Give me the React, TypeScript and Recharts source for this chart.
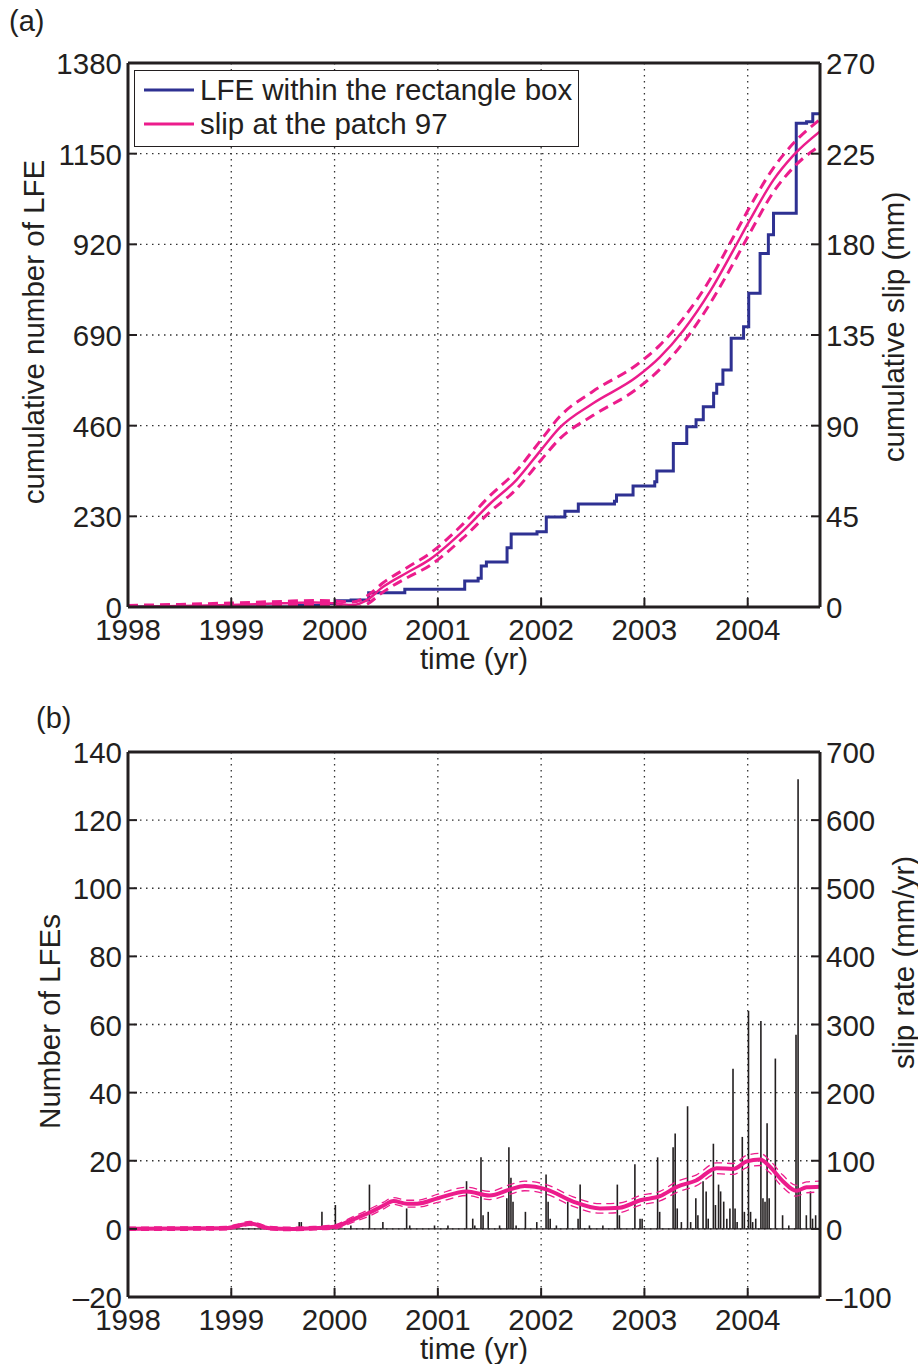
import React from "react";
import {
  ComposedChart,
  Line,
  Bar,
  XAxis,
  YAxis,
  CartesianGrid,
  ReferenceLine,
  Legend,
  Label,
} from "recharts";

const FONT = "'Liberation Sans', Arial, Helvetica, sans-serif";
const INK = "#231f20";
const BLUE = "#2e3192";
const PINK = "#ec1c8c";
const FS = 29.5;

const yearTicks = [1998, 1999, 2000, 2001, 2002, 2003, 2004];
const xDomain: [number, number] = [1998, 2004.7];

// ---- panel (a): cumulative LFE count and cumulative slip
const lfeLeftTicks = [0, 230, 460, 690, 920, 1150, 1380];
const slipRightTicks = [0, 45, 90, 135, 180, 225, 270];

const lfeTime = [
  1998, 1999.66, 1999.88, 2000.01, 2000.16, 2000.33, 2000.68, 2001.26, 2001.39, 2001.42,
  2001.47, 2001.67, 2001.71, 2001.96, 2002.05, 2002.23, 2002.36, 2002.71, 2002.73, 2002.89,
  2003.1, 2003.12, 2003.28, 2003.41, 2003.5, 2003.57, 2003.67, 2003.7, 2003.76, 2003.84,
  2003.96, 2004.01, 2004.12, 2004.2, 2004.25, 2004.47, 2004.57, 2004.63, 2004.7,
];
const lfeCum = [
  0, 4, 9, 16, 18, 36, 45, 66, 73, 104,
  114, 150, 185, 191, 228, 243, 261, 268, 284, 307,
  318, 345, 415, 457, 475, 508, 542, 565, 601, 682,
  711, 796, 897, 944, 999, 1227, 1231, 1251, 1255,
];

const slipTime = [
  1998, 1998.5, 1999, 1999.5, 1999.8, 2000.0, 2000.18, 2000.3, 2000.47, 2000.7,
  2000.92, 2001.25, 2001.5, 2001.76, 2002.0, 2002.18, 2002.5, 2002.92, 2003.15, 2003.38,
  2003.64, 2003.86, 2004.02, 2004.25, 2004.44, 2004.7,
];
const slipMid = [
  0, 0.5, 1, 1.8, 2.2, 1.8, 1.0, 3, 10, 17,
  23.5, 38, 51, 63, 78, 89, 101, 114, 124, 137.5,
  157, 177, 192, 212, 224, 236,
];
const slipUp = [
  0.8, 1.3, 2, 2.8, 3.2, 3, 2.5, 5, 12, 19.5,
  26.5, 41.5, 55, 67.5, 83, 94.5, 107, 120, 130, 143.5,
  163, 183.5, 198.5, 218, 230, 242,
];
const slipLo = [
  -0.5, 0, 0.3, 1, 1.3, 0.8, -0.5, 1, 7.5, 14.5,
  20.5, 34.5, 47, 58.5, 73, 83.5, 95, 108, 118, 131.5,
  151, 170.5, 185.5, 206, 218, 229,
];

// ---- panel (b): daily LFE counts and slip rate
const countLeftTicks = [-20, 0, 20, 40, 60, 80, 100, 120, 140];
const rateRightTicks = [-100, 0, 100, 200, 300, 400, 500, 600, 700];

const dayTime = [
  1999.66, 1999.68, 1999.88, 2000.01, 2000.16, 2000.34, 2000.47, 2000.7, 2000.73, 2000.97,
  2001.1, 2001.28, 2001.34, 2001.36, 2001.42, 2001.44, 2001.49, 2001.6, 2001.67, 2001.69,
  2001.71, 2001.73, 2001.76, 2001.85, 2001.96, 2002.05, 2002.07, 2002.09, 2002.15, 2002.26,
  2002.36, 2002.38, 2002.47, 2002.6, 2002.74, 2002.76, 2002.91, 2002.96, 2002.98, 2003.13,
  2003.15, 2003.28, 2003.3, 2003.32, 2003.36, 2003.42, 2003.45, 2003.5, 2003.52, 2003.57,
  2003.6, 2003.62, 2003.67, 2003.69, 2003.72, 2003.74, 2003.77, 2003.8, 2003.83, 2003.86,
  2003.88, 2003.9, 2003.95, 2003.97, 2004.01, 2004.03, 2004.05, 2004.08, 2004.13, 2004.15,
  2004.17, 2004.19, 2004.21, 2004.27, 2004.34, 2004.4, 2004.47, 2004.49, 2004.51, 2004.57,
  2004.61, 2004.63, 2004.66,
];
const dayCount = [
  2, 2, 5, 7, 1, 13, 2, 6, 1, 1,
  1, 14, 3, 1, 21, 4, 5, 1, 9, 24,
  15, 8, 1, 5, 2, 16, 8, 3, 1, 8,
  3, 13, 1, 1, 13, 4, 19, 3, 3, 21,
  5, 24, 28, 6, 2, 36, 2, 9, 4, 14,
  11, 3, 25, 7, 13, 11, 8, 3, 6, 47,
  6, 2, 27, 5, 64, 5, 2, 3, 61, 9,
  8, 31, 9, 50, 4, 1, 57, 132, 12, 4,
  11, 3, 4,
];

const rateTime = [
  1998, 1998.5, 1998.95, 1999.05, 1999.18, 1999.37, 1999.57, 1999.8, 2000.0, 2000.18,
  2000.34, 2000.47, 2000.57, 2000.7, 2000.8, 2001.0, 2001.28, 2001.5, 2001.7, 2001.84,
  2002.05, 2002.31, 2002.57, 2002.76, 2002.96, 2003.15, 2003.32, 2003.5, 2003.7, 2003.86,
  2003.99, 2004.12, 2004.21, 2004.34, 2004.47, 2004.57, 2004.7,
];
const rateMid = [
  0, 0.5, 1, 4, 8, 1, 0, 1, 3, 14,
  24, 34, 41, 37, 37, 45, 55, 49, 58, 63,
  58, 40, 30, 31, 42, 48, 62, 71, 89, 88,
  99, 102, 92, 70, 56, 61, 62,
];
const rateUp = [
  2.5, 3, 3.5, 6.5, 11, 3.5, 2.5, 3.5, 6, 18,
  29, 39, 46, 42, 42, 51, 61, 55, 65, 70,
  65, 47, 37, 38, 49, 55, 70, 79, 97, 96,
  108, 111, 101, 79, 64, 69, 70,
];
const rateLo = [
  -2, -2, -1.5, 1.5, 5, -1.5, -2.5, -1.5, 0, 10,
  19, 29, 36, 32, 32, 39, 49, 43, 51, 56,
  51, 33, 23, 24, 35, 41, 54, 63, 81, 80,
  90, 93, 83, 61, 48, 53, 54,
];

const zip = (ts: number[], vs: number[]) => ts.map((t, i) => ({ t, v: vs[i] }));
const dayData = dayTime.map((t, i) => ({ t, n: dayCount[i] }));

const fmt = (v: number) => (v < 0 ? "\u2013" + Math.abs(v) : String(v));

// MATLAB-like ticks: short marks pointing into the plot box
function BottomTick({ x, y, payload }: any) {
  return (
    <g>
      <line x1={x} x2={x} y1={y} y2={y - 9} stroke={INK} strokeWidth={2} />
      <text x={x} y={y + 33} textAnchor="middle" fontSize={FS} fontFamily={FONT} fill={INK}>
        {fmt(payload.value)}
      </text>
    </g>
  );
}
function TopTick({ x, y }: any) {
  return <line x1={x} x2={x} y1={y} y2={y + 9} stroke={INK} strokeWidth={2} />;
}
function LeftTick({ x, y, payload }: any) {
  return (
    <g>
      <line x1={x} x2={x + 9} y1={y} y2={y} stroke={INK} strokeWidth={2} />
      <text x={x - 6} y={y + 11} textAnchor="end" fontSize={FS} fontFamily={FONT} fill={INK}>
        {fmt(payload.value)}
      </text>
    </g>
  );
}
function RightTick({ x, y, payload }: any) {
  return (
    <g>
      <line x1={x} x2={x - 9} y1={y} y2={y} stroke={INK} strokeWidth={2} />
      <text x={x + 6} y={y + 11} textAnchor="start" fontSize={FS} fontFamily={FONT} fill={INK}>
        {fmt(payload.value)}
      </text>
    </g>
  );
}

function vLabel(text: string, dx: number, dy = 0) {
  return (props: any) => {
    const vb = props.viewBox;
    const cx = vb.x + dx;
    const cy = vb.y + vb.height / 2 + dy;
    return (
      <text
        x={cx}
        y={cy}
        transform={`rotate(-90 ${cx} ${cy})`}
        textAnchor="middle"
        dominantBaseline="central"
        fontSize={FS}
        fontFamily={FONT}
        fill={INK}
      >
        {text}
      </text>
    );
  };
}

function timeLabel(props: any) {
  const vb = props.viewBox;
  return (
    <text x={vb.x + vb.width / 2} y={vb.y + 62} textAnchor="middle" fontSize={FS} fontFamily={FONT} fill={INK}>
      time (yr)
    </text>
  );
}

function LegendBox() {
  const rows = [
    { c: BLUE, t: "LFE within the rectangle box" },
    { c: PINK, t: "slip at the patch 97" },
  ];
  return (
    <div
      style={{
        width: 445,
        height: 77,
        boxSizing: "border-box",
        border: `1.5px solid ${INK}`,
        background: "#fff",
        padding: "2px 0 0 9px",
      }}
    >
      {rows.map((r) => (
        <div
          key={r.t}
          style={{ display: "flex", alignItems: "center", height: 34, fontSize: FS, color: INK, fontFamily: FONT, whiteSpace: "nowrap" }}
        >
          <svg width={50} height={6} style={{ marginRight: 6, flexShrink: 0 }}>
            <line x1={0} x2={50} y1={3} y2={3} stroke={r.c} strokeWidth={3} />
          </svg>
          <span>{r.t}</span>
        </div>
      ))}
    </div>
  );
}

const axisLine = { stroke: INK, strokeWidth: 3 };
const grid = { stroke: "#333", strokeWidth: 1.3, strokeDasharray: "1.5 4.5" };

export default function App() {
  return (
    <div style={{ position: "relative", width: 918, height: 1364, background: "#fff", fontFamily: FONT, overflow: "hidden" }}>
      <style>{"body{margin:0;background:#fff}"}</style>

      <div style={{ position: "absolute", left: 0, top: 0 }}>
        <ComposedChart width={918} height={690} margin={{ top: 62, right: 0, bottom: 0, left: 0 }}>
          <CartesianGrid xAxisId="b" yAxisId="left" {...grid} />
          <XAxis
            xAxisId="b"
            type="number"
            dataKey="t"
            domain={xDomain}
            ticks={yearTicks}
            interval={0}
            allowDataOverflow
            height={83}
            axisLine={axisLine}
            tickLine={false}
            tickSize={0}
            tickMargin={0}
            tick={<BottomTick />}
          >
            <Label content={timeLabel} />
          </XAxis>
          <XAxis
            xAxisId="top"
            orientation="top"
            type="number"
            domain={xDomain}
            ticks={yearTicks}
            interval={0}
            allowDataOverflow
            height={1}
            axisLine={axisLine}
            tickLine={false}
            tickSize={0}
            tickMargin={0}
            tick={<TopTick />}
          />
          <YAxis
            yAxisId="left"
            type="number"
            domain={[0, 1380]}
            ticks={lfeLeftTicks}
            interval={0}
            allowDataOverflow
            width={128}
            axisLine={axisLine}
            tickLine={false}
            tickSize={0}
            tickMargin={0}
            tick={<LeftTick />}
          >
            <Label content={vLabel("cumulative number of LFE", 33, -3)} />
          </YAxis>
          <YAxis
            yAxisId="right"
            orientation="right"
            type="number"
            domain={[0, 270]}
            ticks={slipRightTicks}
            interval={0}
            allowDataOverflow
            width={98}
            axisLine={axisLine}
            tickLine={false}
            tickSize={0}
            tickMargin={0}
            tick={<RightTick />}
          >
            <Label content={vLabel("cumulative slip (mm)", 73, -8)} />
          </YAxis>
          <Line
            xAxisId="b"
            yAxisId="left"
            data={zip(lfeTime, lfeCum)}
            dataKey="v"
            type="stepAfter"
            stroke={BLUE}
            strokeWidth={3}
            dot={false}
            isAnimationActive={false}
          />
          <Line
            xAxisId="b"
            yAxisId="right"
            data={zip(slipTime, slipUp)}
            dataKey="v"
            type="monotone"
            stroke={PINK}
            strokeWidth={3}
            strokeDasharray="10 6"
            dot={false}
            isAnimationActive={false}
          />
          <Line
            xAxisId="b"
            yAxisId="right"
            data={zip(slipTime, slipLo)}
            dataKey="v"
            type="monotone"
            stroke={PINK}
            strokeWidth={3}
            strokeDasharray="10 6"
            dot={false}
            isAnimationActive={false}
          />
          <Line
            xAxisId="b"
            yAxisId="right"
            data={zip(slipTime, slipMid)}
            dataKey="v"
            type="monotone"
            stroke={PINK}
            strokeWidth={2.5}
            dot={false}
            isAnimationActive={false}
          />
          <Legend
            content={<LegendBox />}
            layout="horizontal"
            verticalAlign="middle"
            align="center"
            wrapperStyle={{ left: 134, top: 70, width: 445, height: 77 }}
          />
        </ComposedChart>
      </div>

      <div style={{ position: "absolute", left: 0, top: 690 }}>
        <ComposedChart width={918} height={674} data={dayData} margin={{ top: 61, right: 0, bottom: 0, left: 0 }}>
          <CartesianGrid xAxisId="b" yAxisId="left" {...grid} />
          <XAxis
            xAxisId="b"
            type="number"
            dataKey="t"
            domain={xDomain}
            ticks={yearTicks}
            interval={0}
            allowDataOverflow
            height={67}
            axisLine={axisLine}
            tickLine={false}
            tickSize={0}
            tickMargin={0}
            tick={<BottomTick />}
          >
            <Label content={timeLabel} />
          </XAxis>
          <XAxis xAxisId="bars" type="number" dataKey="t" domain={xDomain} allowDataOverflow hide />
          <XAxis
            xAxisId="top"
            orientation="top"
            type="number"
            domain={xDomain}
            ticks={yearTicks}
            interval={0}
            allowDataOverflow
            height={1}
            axisLine={axisLine}
            tickLine={false}
            tickSize={0}
            tickMargin={0}
            tick={<TopTick />}
          />
          <YAxis
            yAxisId="left"
            type="number"
            domain={[-20, 140]}
            ticks={countLeftTicks}
            interval={0}
            allowDataOverflow
            width={128}
            axisLine={axisLine}
            tickLine={false}
            tickSize={0}
            tickMargin={0}
            tick={<LeftTick />}
          >
            <Label content={vLabel("Number of LFEs", 49, -3)} />
          </YAxis>
          <YAxis
            yAxisId="right"
            orientation="right"
            type="number"
            domain={[-100, 700]}
            ticks={rateRightTicks}
            interval={0}
            allowDataOverflow
            width={98}
            axisLine={axisLine}
            tickLine={false}
            tickSize={0}
            tickMargin={0}
            tick={<RightTick />}
          >
            <Label content={vLabel("slip rate (mm/yr)", 83, -62)} />
          </YAxis>
          <ReferenceLine xAxisId="b" yAxisId="left" y={0} stroke={INK} strokeWidth={1.3} />
          <Bar xAxisId="bars" yAxisId="left" dataKey="n" fill={INK} barSize={1.6} isAnimationActive={false} />
          <Line
            xAxisId="b"
            yAxisId="right"
            data={zip(rateTime, rateUp)}
            dataKey="v"
            type="monotone"
            stroke={PINK}
            strokeWidth={1.3}
            strokeDasharray="8 5"
            dot={false}
            isAnimationActive={false}
          />
          <Line
            xAxisId="b"
            yAxisId="right"
            data={zip(rateTime, rateLo)}
            dataKey="v"
            type="monotone"
            stroke={PINK}
            strokeWidth={1.3}
            strokeDasharray="8 5"
            dot={false}
            isAnimationActive={false}
          />
          <Line
            xAxisId="b"
            yAxisId="right"
            data={zip(rateTime, rateMid)}
            dataKey="v"
            type="monotone"
            stroke={PINK}
            strokeWidth={4}
            dot={false}
            isAnimationActive={false}
          />
        </ComposedChart>
      </div>

      <div style={{ position: "absolute", left: 9, top: 7, fontSize: 29, lineHeight: 1, color: INK }}>(a)</div>
      <div style={{ position: "absolute", left: 36, top: 704, fontSize: 29, lineHeight: 1, color: INK }}>(b)</div>
    </div>
  );
}
